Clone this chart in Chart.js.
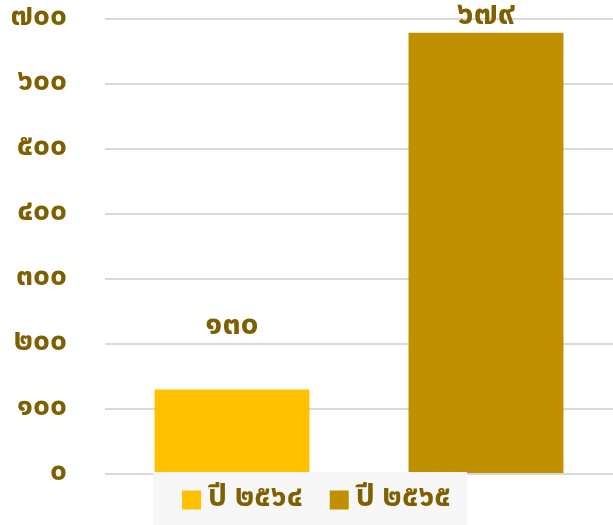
<!DOCTYPE html>
<html>
<head>
<meta charset="utf-8">
<script src="https://cdn.jsdelivr.net/npm/chart.js@4/dist/chart.umd.min.js"></script>
<style>
  body { margin: 0; background: #fff; }
  #mycanvas { display: block; }
</style>
</head>
<body>
<canvas id="mycanvas" width="613" height="525"></canvas>
<script>
// data
var categories = ['ปี ๒๕๖๔', 'ปี ๒๕๖๕'];
var values = [130, 679];
var valueLabels = ['๑๓๐', '๖๗๙'];
var barColors = ['#FFC000', '#BF9000'];
var thaiDigits = ['๐','๑','๒','๓','๔','๕','๖','๗','๘','๙'];

function toThai(n) {
	return String(n).replace(/[0-9]/g, function(d){ return thaiDigits[+d]; });
}

var textColor = '#7F6000';
var fontFamily = '"Noto Sans Thai", "Noto Sans", "DejaVu Sans", sans-serif';

var datasets = [];
for (var i in categories) {
	var d = categories.map(function(){ return null; });
	d[i] = values[i];
	datasets.push({
		label: categories[i],
		data: d,
		backgroundColor: barColors[i],
		borderWidth: 0,
		grouped: false,
		barPercentage: 0.61,
		categoryPercentage: 1
	});
}

// label above each bar
var valueLabelPlugin = {
	id: 'valueLabels',
	afterDatasetsDraw: function(chart, args, opts) {
		var ctx = chart.ctx;
		ctx.save();
		ctx.font = 'bold 32px ' + fontFamily;
		ctx.fillStyle = textColor;
		ctx.textAlign = 'center';
		ctx.textBaseline = 'middle';
		chart.data.datasets.forEach(function(ds, i) {
			var bar = chart.getDatasetMeta(i).data[i];
			ctx.fillText(valueLabels[i], bar.x, bar.y - opts.offsets[i]);
		});
		ctx.restore();
	}
};

// legend in a grey box under the plot
var boxLegendPlugin = {
	id: 'boxLegend',
	afterDraw: function(chart) {
		var ctx = chart.ctx;
		var area = chart.chartArea;
		var sq = 19, gapText = 7, gapItem = 27;
		ctx.save();
		ctx.font = 'bold 30px ' + fontFamily;
		var widths = chart.data.datasets.map(function(ds){ return ctx.measureText(ds.label).width; });
		var total = 0;
		widths.forEach(function(w, i){ total += sq + gapText + w + (i ? gapItem : 0); });
		var x = chart.width / 2 + 10 - total / 2;
		var cy = area.bottom + 26;
		ctx.fillStyle = '#F7F7F7';
		ctx.fillRect(x - 29, area.bottom - 2, total + 45, chart.height - area.bottom + 2);
		ctx.textBaseline = 'middle';
		ctx.textAlign = 'left';
		chart.data.datasets.forEach(function(ds, i) {
			ctx.fillStyle = ds.backgroundColor;
			ctx.fillRect(x, cy - sq / 2, sq, sq);
			x += sq + gapText;
			ctx.fillStyle = textColor;
			ctx.fillText(ds.label, x, cy);
			x += widths[i] + gapItem;
		});
		ctx.restore();
	}
};

var ctx = document.getElementById('mycanvas');
var barGraph = new Chart(ctx, {
	type: 'bar',
	data: { labels: categories, datasets: datasets },
	plugins: [valueLabelPlugin, boxLegendPlugin],
	options: {
		responsive: false,
		animation: false,
		layout: { padding: { top: 0, left: 0, right: 0, bottom: 51 } },
		plugins: {
			tooltip: { enabled: false },
			valueLabels: { offsets: [62, 15] },
			legend: { display: false }
		},
		scales: {
			x: {
				display: false
			},
			y: {
				min: 0,
				max: 700,
				afterFit: function(scale) {
					scale.width = 105;
					scale.paddingTop = 19;
					scale.paddingBottom = 0;
				},
				ticks: {
					stepSize: 100,
					padding: 38,
					color: textColor,
					font: { family: fontFamily, size: 30, weight: 'bold' },
					callback: function(v) { return toThai(v); }
				},
				grid: { color: '#D9D9D9', lineWidth: 2, drawTicks: false },
				border: { display: false }
			}
		}
	}
});
</script>
</body>
</html>
